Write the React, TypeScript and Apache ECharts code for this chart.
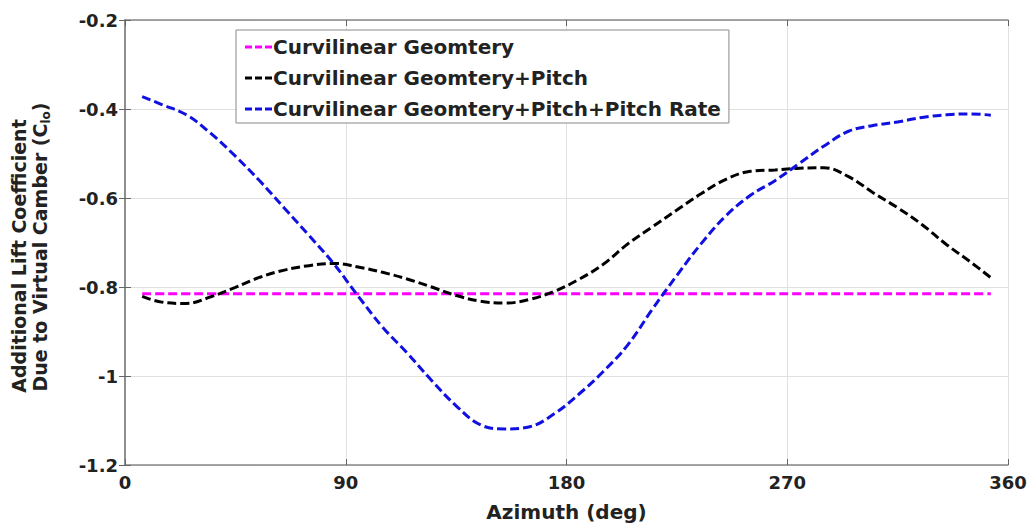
import React, { useEffect, useRef } from "react";
import * as echarts from "echarts";

const azimuth = [7, 15, 25, 35, 45, 55, 65, 75, 85, 95, 105, 115, 125, 135, 145, 155, 165, 175, 185, 195, 205, 215, 225, 235, 245, 255, 265, 275, 285, 295, 305, 315, 325, 335, 345, 353];

const curvilinear = [-0.815, -0.815, -0.815, -0.815, -0.815, -0.815, -0.815, -0.815, -0.815, -0.815, -0.815, -0.815, -0.815, -0.815, -0.815, -0.815, -0.815, -0.815, -0.815, -0.815, -0.815, -0.815, -0.815, -0.815, -0.815, -0.815, -0.815, -0.815, -0.815, -0.815, -0.815, -0.815, -0.815, -0.815, -0.815, -0.815];

const withPitch = [-0.821, -0.834, -0.837, -0.822, -0.801, -0.778, -0.762, -0.752, -0.747, -0.755, -0.767, -0.782, -0.800, -0.819, -0.832, -0.836, -0.828, -0.810, -0.783, -0.749, -0.703, -0.665, -0.627, -0.590, -0.558, -0.540, -0.537, -0.533, -0.532, -0.552, -0.588, -0.622, -0.660, -0.705, -0.745, -0.779];

const withPitchRate = [-0.372, -0.390, -0.413, -0.455, -0.506, -0.562, -0.623, -0.684, -0.747, -0.820, -0.890, -0.948, -1.010, -1.067, -1.110, -1.119, -1.114, -1.085, -1.041, -0.990, -0.930, -0.850, -0.774, -0.702, -0.640, -0.594, -0.561, -0.522, -0.483, -0.450, -0.437, -0.429, -0.419, -0.413, -0.411, -0.414];

const seriesNames = [
  "Curvilinear Geomtery",
  "Curvilinear Geomtery+Pitch",
  "Curvilinear Geomtery+Pitch+Pitch Rate",
];
const seriesColors = ["#ff00ff", "#000000", "#1010e0"];

const xTitle = "Azimuth (deg)";
const yTitleLine1 = "Additional Lift Coefficient";
const yTitleLine2 = "Due to Virtual Camber (C";
const yTitleSub = "lo";

const FONT = '"DejaVu Sans", Arial, sans-serif';
const DASH_ICON = "path://M0,0h7v3h-7z M10,0h7v3h-7z M20,0h7v3h-7z";

export default function App() {
  const ref = useRef<HTMLDivElement>(null);

  useEffect(() => {
    if (!ref.current) return;
    const chart = echarts.init(ref.current, null, { renderer: "svg" });
    const values = [curvilinear, withPitch, withPitchRate];

    const labelStyle = {
      fontFamily: FONT,
      fontWeight: "bold" as const,
      fontSize: 18,
      color: "#222",
    };
    const axisLine = { show: true, lineStyle: { color: "#888", width: 1.5 } };
    const fmt = (v: number) => String(parseFloat(Number(v).toFixed(2)));

    chart.setOption({
      animation: false,
      backgroundColor: "#ffffff",
      grid: { left: 125, top: 20, right: 25, bottom: 56, containLabel: false },
      legend: {
        orient: "vertical",
        left: 236,
        top: 30,
        padding: [7, 8, 4, 9],
        itemGap: 11,
        itemWidth: 27,
        itemHeight: 3,
        backgroundColor: "#ffffff",
        borderColor: "#888",
        borderWidth: 1,
        borderRadius: 0,
        textStyle: { ...labelStyle, fontSize: 20, padding: [0, 0, 0, -4] },
        data: seriesNames.map((n) => ({ name: n, icon: DASH_ICON })),
      },
      xAxis: [
        {
          type: "value",
          min: 0,
          max: 360,
          interval: 90,
          position: "bottom",
          axisLine,
          axisTick: { show: true, inside: true, length: 6, lineStyle: { color: "#666" } },
          axisLabel: { ...labelStyle, margin: 8, formatter: fmt },
          splitLine: { show: true, lineStyle: { color: "#e0e0e0", width: 1 } },
          name: xTitle,
          nameLocation: "middle",
          nameGap: 37,
          nameTextStyle: { ...labelStyle, fontSize: 20 },
        },
        {
          type: "value",
          min: 0,
          max: 360,
          interval: 90,
          position: "top",
          axisLine,
          axisTick: { show: true, inside: true, length: 6, lineStyle: { color: "#666" } },
          axisLabel: { show: false },
          splitLine: { show: false },
        },
      ],
      yAxis: [
        {
          type: "value",
          min: -1.2,
          max: -0.2,
          interval: 0.2,
          position: "left",
          axisLine,
          axisTick: { show: true, inside: true, length: 6, lineStyle: { color: "#666" } },
          axisLabel: { ...labelStyle, margin: 7, formatter: fmt },
          splitLine: { show: true, lineStyle: { color: "#e0e0e0", width: 1 } },
        },
        {
          type: "value",
          min: -1.2,
          max: -0.2,
          interval: 0.2,
          position: "right",
          axisLine,
          axisTick: { show: true, inside: true, length: 6, lineStyle: { color: "#666" } },
          axisLabel: { show: false },
          splitLine: { show: false },
        },
      ],
      series: seriesNames.map((name, k) => ({
        name,
        type: "line",
        xAxisIndex: 0,
        yAxisIndex: 0,
        smooth: 0.4,
        symbol: "none",
        showSymbol: false,
        color: seriesColors[k],
        itemStyle: { color: seriesColors[k] },
        lineStyle: { color: seriesColors[k], width: 3, type: [9, 4] },
        data: azimuth.map((a, i) => [a, values[k][i]]),
        z: 3 + k,
      })),
      graphic: [
        {
          type: "text",
          x: 19,
          y: 256,
          rotation: Math.PI / 2,
          style: {
            text: yTitleLine1,
            fontFamily: FONT,
            fontWeight: "bold",
            fontSize: 19,
            fill: "#222",
            align: "center",
            verticalAlign: "middle",
          },
        },
        {
          type: "text",
          x: 41,
          y: 247,
          rotation: Math.PI / 2,
          style: {
            text: `{a|${yTitleLine2}}{s|${yTitleSub}}{a|)}`,
            fontFamily: FONT,
            fontWeight: "bold",
            fontSize: 19,
            fill: "#222",
            align: "center",
            verticalAlign: "middle",
            rich: {
              a: { fontFamily: FONT, fontWeight: "bold", fontSize: 19, fill: "#222", lineHeight: 22, verticalAlign: "top" },
              s: { fontFamily: FONT, fontWeight: "bold", fontSize: 12, fill: "#222", lineHeight: 22, verticalAlign: "bottom", padding: [10, 0, 0, 0] },
            },
          },
        },
      ],
    });

    return () => chart.dispose();
  }, []);

  return (
    <div
      ref={ref}
      style={{ position: "absolute", left: 0, top: 0, width: 1033, height: 527 }}
    />
  );
}
